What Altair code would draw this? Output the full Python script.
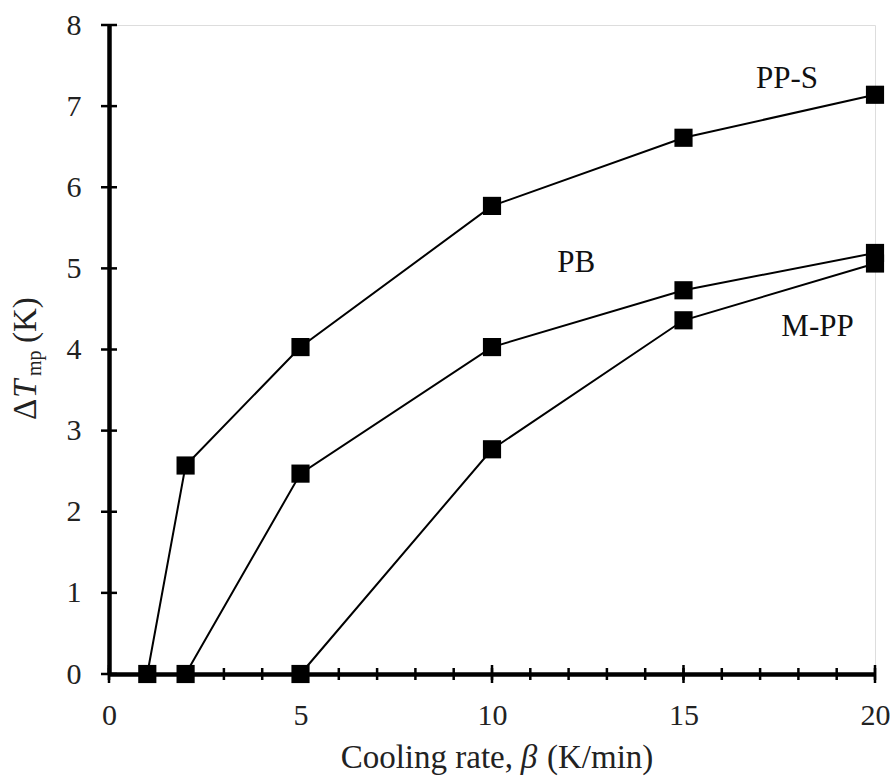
import altair as alt
import pandas as pd

# ---- data ----
pps_x = [1, 2, 5, 10, 15, 20]
pps_y = [0.0, 2.57, 4.03, 5.77, 6.61, 7.14]
pb_x = [2, 5, 10, 15, 20]
pb_y = [0.0, 2.47, 4.03, 4.73, 5.19]
mpp_x = [5, 10, 15, 20]
mpp_y = [0.0, 2.77, 4.36, 5.06]

label_text = ["PP-S", "PB", "M-PP"]
label_x = [17.7, 12.2, 18.5]
label_y = [7.33, 5.07, 4.28]

x_major = [0, 5, 10, 15, 20]
x_minor = list(range(0, 21))
y_ticks = list(range(0, 9))

FONT = "Liberation Serif"
W, H = 766, 649

rows = []
for name, xs, ys in [("PP-S", pps_x, pps_y), ("PB", pb_x, pb_y), ("M-PP", mpp_x, mpp_y)]:
    for a, b in zip(xs, ys):
        rows.append({"series": name, "x": a, "y": b})
df = pd.DataFrame(rows)

xscale = alt.Scale(domain=[0, 20], nice=False, zero=False)
yscale = alt.Scale(domain=[0, 8], nice=False, zero=False)

xaxis = alt.Axis(values=x_major, ticks=False, grid=False, domainColor="black",
                 domainWidth=4.5, labelFont=FONT, labelFontSize=30, labelColor="#222",
                 labelPadding=26, title=None, labelFlush=False, format="d")
yaxis = alt.Axis(values=y_ticks, ticks=False, grid=False, domainColor="black",
                 domainWidth=4.5, labelFont=FONT, labelFontSize=30, labelColor="#222",
                 labelPadding=28, title=None, format="d")

base = alt.Chart(df)
lines = base.mark_line(color="black", strokeWidth=2).encode(
    x=alt.X("x:Q", scale=xscale, axis=xaxis),
    y=alt.Y("y:Q", scale=yscale, axis=yaxis),
    detail="series:N",
)
points = base.mark_point(shape="square", filled=True, color="black", size=330, opacity=1).encode(
    x=alt.X("x:Q", scale=xscale),
    y=alt.Y("y:Q", scale=yscale),
)

lab_df = pd.DataFrame({"t": label_text, "x": label_x, "y": label_y})
labels = alt.Chart(lab_df).mark_text(font=FONT, fontSize=31, color="#111").encode(
    x=alt.X("x:Q", scale=xscale), y=alt.Y("y:Q", scale=yscale), text="t:N")

xmin_df = pd.DataFrame({"v": x_minor})
xmaj_df = pd.DataFrame({"v": x_major})
y_df = pd.DataFrame({"v": y_ticks})
xminor_rules = alt.Chart(xmin_df).mark_rule(color="black", strokeWidth=2.5).encode(
    x=alt.X("v:Q", scale=xscale), y=alt.value(H - 6), y2=alt.value(H + 6))
xmajor_rules = alt.Chart(xmaj_df).mark_rule(color="black", strokeWidth=2.5).encode(
    x=alt.X("v:Q", scale=xscale), y=alt.value(H - 9), y2=alt.value(H + 9))
y_rules = alt.Chart(y_df).mark_rule(color="black", strokeWidth=2.5).encode(
    y=alt.Y("v:Q", scale=yscale), x=alt.value(-8), x2=alt.value(8))

one = pd.DataFrame({"k": [0]})

def txt(s, x, y, size=33, style="normal", align="center", angle=0, baseline="alphabetic"):
    return alt.Chart(one).mark_text(font=FONT, fontSize=size, fontStyle=style, align=align,
                                    angle=angle, baseline=baseline, color="#222").encode(
        x=alt.value(x), y=alt.value(y), text=alt.value(s))

# x title: "Cooling rate, β (K/min)"
xt_y = 743
xt = [
    txt("Cooling rate,", 404, xt_y, align="right"),
    txt("β", 420, xt_y, style="italic"),
    txt("(K/min)", 438, xt_y, align="left"),
]
# y title: "ΔT_mp (K)" rotated
ybx = -73
yt = [
    txt("Δ", ybx, 395, align="left", angle=270),
    txt("T", ybx, 373, style="italic", align="left", angle=270),
    txt("mp", ybx + 5, 351, size=20, align="left", angle=270),
    txt("(K)", ybx, 318, align="left", angle=270),
]

chart = alt.layer(
    lines, xminor_rules, xmajor_rules, y_rules, points, labels, *xt, *yt
).properties(
    width=W, height=H,
    autosize=alt.AutoSizeParams(type="none"),
    padding={"left": 109, "top": 25, "right": 21, "bottom": 102},
).configure_view(stroke=None).configure(background="white")

chart.save("out.html", embed_options={"renderer": "svg", "actions": False})
